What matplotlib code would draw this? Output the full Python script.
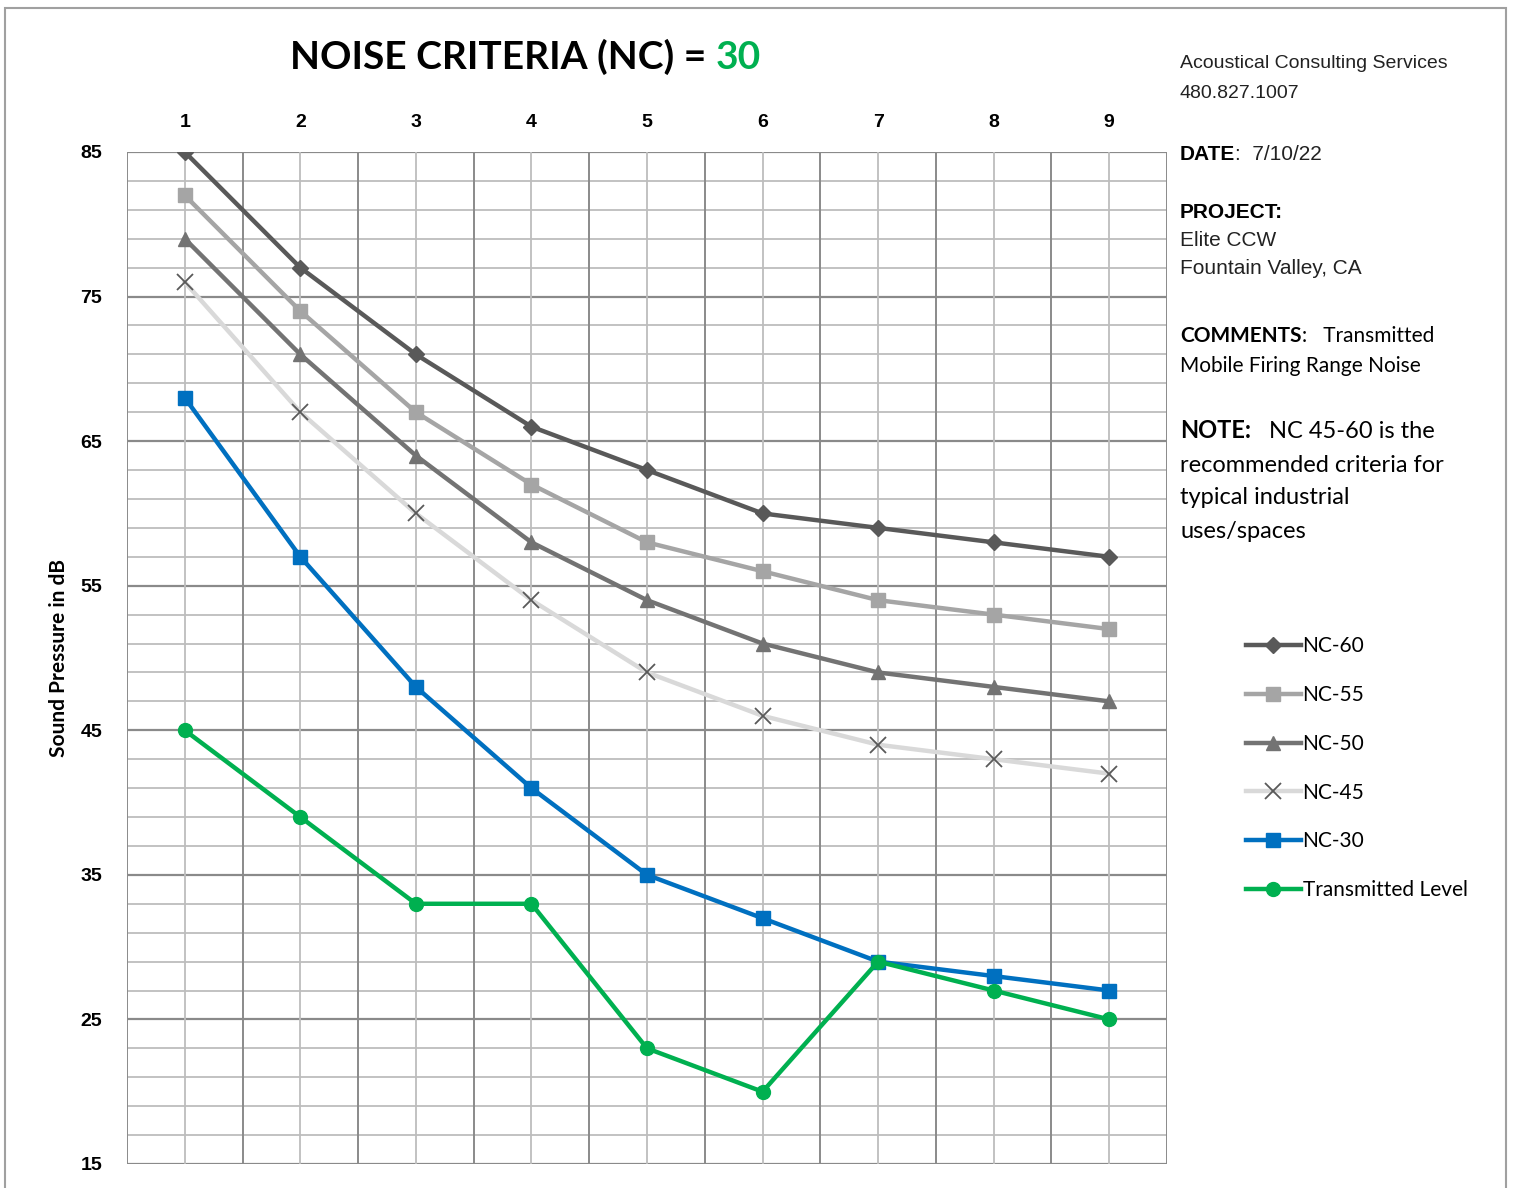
import numpy as np
import matplotlib.pyplot as plt
from matplotlib.patches import Rectangle

# octave band index 1..9
bands = [1, 2, 3, 4, 5, 6, 7, 8, 9]

nc60 = [85, 77, 71, 66, 63, 60, 59, 58, 57]
nc55 = [82, 74, 67, 62, 58, 56, 54, 53, 52]
nc50 = [79, 71, 64, 58, 54, 51, 49, 48, 47]
nc45 = [76, 67, 60, 54, 49, 46, 44, 43, 42]
nc30 = [68, 57, 48, 41, 35, 32, 29, 28, 27]
transmitted = [45, 39, 33, 33, 23, 20, 29, 27, 25]

y_ticks = [15, 25, 35, 45, 55, 65, 75, 85]

narrow = ['Liberation Sans Narrow', 'Liberation Sans', 'DejaVu Sans']
calib = ['Lato', 'DejaVu Sans']

fig = plt.figure(figsize=(15.14, 11.88), dpi=100)
fig.patch.set_facecolor('white')

# page border
fig.patches.append(Rectangle((5 / 1514, -0.05), 1501 / 1514, 1 - 8 / 1188 + 0.05,
                             transform=fig.transFigure, fill=False,
                             edgecolor='#a0a0a0', linewidth=1.5))

ax = fig.add_axes([127 / 1514, 1 - 1164 / 1188, 1040 / 1514, 1012 / 1188])
ax.set_xlim(0.5, 9.5)
ax.set_ylim(15, 85)

# grid
for v in np.arange(15, 86, 2):
    major = (v - 15) % 10 == 0
    ax.axhline(v, color='#8a8a8a' if major else '#bdbdbd',
               lw=1.6 if major else 1.3, zorder=0)
for x in np.arange(0.5, 9.51, 0.5):
    half = (x * 2) % 2 == 1
    ax.axvline(x, color='#8a8a8a' if half else '#bdbdbd',
               lw=1.4 if half else 1.3, zorder=0)

for s in ax.spines.values():
    s.set_visible(False)

ax.plot(bands, nc60, color='#595959', lw=3.2, marker='D', ms=8, label='NC-60')
ax.plot(bands, nc55, color='#a5a5a5', lw=3.2, marker='s', ms=10, label='NC-55')
ax.plot(bands, nc50, color='#737373', lw=3.2, marker='^', ms=10, label='NC-50')
ax.plot(bands, nc45, color='#d9d9d9', lw=3.2, marker='x', ms=11, mec='#595959',
        mew=1.3, label='NC-45')
ax.plot(bands, nc30, color='#0070c0', lw=3.2, marker='s', ms=10, label='NC-30')
ax.plot(bands, transmitted, color='#00b050', lw=3.2, marker='o', ms=10,
        label='Transmitted Level')

ax.set_xticks(bands)
ax.set_xticklabels([str(b) for b in bands], family=narrow, fontweight='bold',
                   fontsize=14)
ax.xaxis.tick_top()
ax.tick_params(axis='x', length=0, pad=15)
ax.set_yticks(y_ticks)
ax.set_yticklabels([str(v) for v in y_ticks], family=narrow, fontweight='bold',
                   fontsize=14)
ax.tick_params(axis='y', length=0, pad=18)
ax.set_ylabel('Sound Pressure in dB', family=calib, fontweight='bold',
              fontsize=15, labelpad=8)

# title with green value
t1 = fig.text(290 / 1514, 1 - 57 / 1188, 'NOISE CRITERIA (NC) = ', family=calib,
              fontweight='bold', fontsize=28, va='center', ha='left')
fig.canvas.draw()
ax.annotate('30', xy=(1, 0), xycoords=t1, va='bottom', ha='left',
            family=calib, fontweight='bold', fontsize=28, color='#00b050',
            annotation_clip=False)

# right-side info block
xr = 1180 / 1514


def fy(py):
    return 1 - py / 1188


fig.text(xr, fy(64), 'Acoustical Consulting Services', family=narrow,
         fontsize=14, va='center', color='#222222')
fig.text(xr, fy(94), '480.827.1007', family=narrow, fontsize=14, va='center',
         color='#222222')
d = fig.text(xr, fy(155), 'DATE', family=narrow, fontsize=15,
             fontweight='bold', va='center')
fig.canvas.draw()
ax.annotate(':  7/10/22', xy=(1, 0), xycoords=d, va='bottom', ha='left',
            family=narrow, fontsize=15, color='#222222', annotation_clip=False)
fig.text(xr, fy(212), 'PROJECT:', family=narrow, fontsize=15,
         fontweight='bold', va='center')
fig.text(xr, fy(240), 'Elite CCW', family=narrow, fontsize=15, va='center',
         color='#222222')
fig.text(xr, fy(268), 'Fountain Valley, CA', family=narrow, fontsize=15,
         va='center', color='#222222')
c = fig.text(xr, fy(336), 'COMMENTS', family=calib, fontsize=15,
             fontweight='bold', va='center')
fig.canvas.draw()
ax.annotate(':   Transmitted', xy=(1, 0), xycoords=c, va='bottom', ha='left',
            family=calib, fontsize=15, annotation_clip=False)
fig.text(xr, fy(366), 'Mobile Firing Range Noise', family=calib, fontsize=15,
         va='center')
n = fig.text(xr, fy(431), 'NOTE:', family=calib, fontsize=17,
             fontweight='bold', va='center')
fig.canvas.draw()
ax.annotate('   NC 45-60 is the', xy=(1, 0), xycoords=n, va='bottom', ha='left',
            family=calib, fontsize=17, annotation_clip=False)
for py, line in [(465, 'recommended criteria for'), (498, 'typical industrial'),
                 (531, 'uses/spaces')]:
    fig.text(xr, fy(py), line, family=calib, fontsize=17, va='center')

leg = ax.legend(loc='upper left', bbox_to_anchor=(1238 / 1514, fy(628)),
                bbox_transform=fig.transFigure, frameon=False,
                prop={'family': calib, 'size': 15}, handlelength=2.6,
                handletextpad=0.1, labelspacing=1.38, borderaxespad=0)

fig.savefig('out.png', dpi=100)
